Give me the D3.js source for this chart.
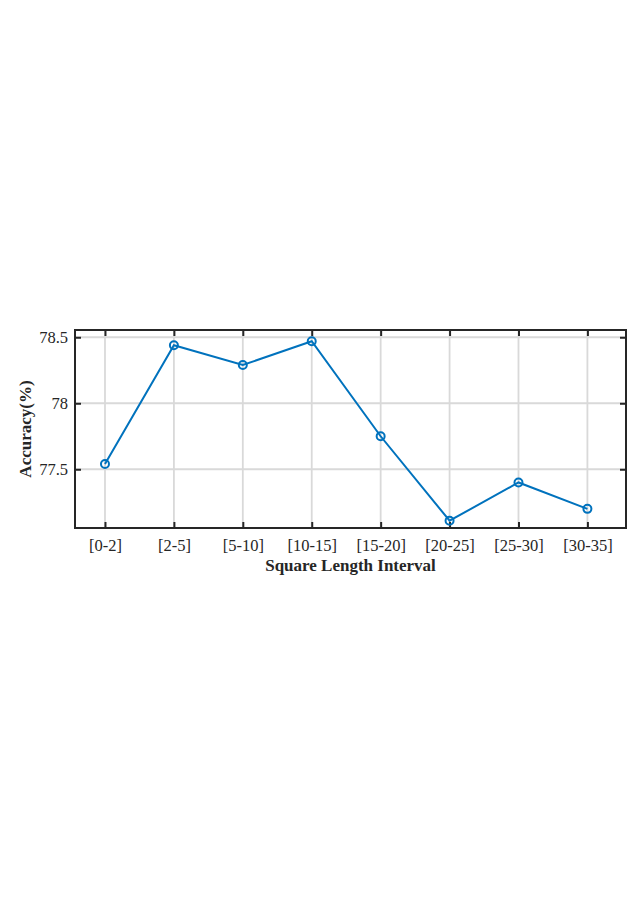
<!DOCTYPE html>
<html>
<head>
<meta charset="utf-8">
<script src="https://cdn.jsdelivr.net/npm/d3@7"></script>
<style>
  body { margin: 0; background: #fff; }
  text { font-family: 'Liberation Serif', 'DejaVu Serif', serif; fill: #262626; }
</style>
</head>
<body>
<div id="box-div"></div>
<script>
// data
const categories = ['[0-2]', '[2-5]', '[5-10]', '[10-15]', '[15-20]', '[20-25]', '[25-30]', '[30-35]']
const accuracy = [77.54, 78.44, 78.29, 78.47, 77.75, 77.11, 77.40, 77.20]
const yTicks = [77.5, 78, 78.5]

const dms = {
  width: 641,
  height: 906,
  margin: { top: 330, left: 75 },
  plotWidth: 551,
  plotHeight: 198,
}

const svg = d3.select('#box-div')
  .append('svg')
  .attr('width', dms.width)
  .attr('height', dms.height)

const content = svg.append('g')
  .attr('transform', `translate(${dms.margin.left},${dms.margin.top})`)

// category index -> x (points 1..8 with padding on both sides)
const xScale = d3.scaleLinear()
  .domain([0.565, 8.56])
  .range([0, dms.plotWidth])

const yScale = d3.scaleLinear()
  .domain([77.055, 78.555])
  .range([dms.plotHeight, 0])

const idx = categories.map((c, i) => i + 1)

// grid
const grid = content.append('g').attr('class', 'grid')
grid.selectAll('line.gx')
  .data(idx)
  .join('line')
  .attr('class', 'gx')
  .attr('x1', d => xScale(d)).attr('x2', d => xScale(d))
  .attr('y1', 0).attr('y2', dms.plotHeight)
  .attr('stroke', '#d9d9d9').attr('stroke-width', 1.8)
grid.selectAll('line.gy')
  .data(yTicks)
  .join('line')
  .attr('class', 'gy')
  .attr('x1', 0).attr('x2', dms.plotWidth)
  .attr('y1', d => yScale(d)).attr('y2', d => yScale(d))
  .attr('stroke', '#d9d9d9').attr('stroke-width', 1.8)

// axes (inward ticks on all sides)
const tickLen = 6
const bottomAxis = d3.axisBottom(xScale).tickValues(idx).tickFormat(d => categories[d - 1]).tickSizeInner(-tickLen).tickSizeOuter(0).tickPadding(11)
const topAxis = d3.axisTop(xScale).tickValues(idx).tickFormat('').tickSizeInner(-tickLen).tickSizeOuter(0)
const leftAxis = d3.axisLeft(yScale).tickValues(yTicks).tickFormat(d3.format('')).tickSizeInner(-tickLen).tickSizeOuter(0).tickPadding(7)
const rightAxis = d3.axisRight(yScale).tickValues(yTicks).tickFormat('').tickSizeInner(-tickLen).tickSizeOuter(0)

function styleAxis(g) {
  g.select('.domain').remove()
  g.selectAll('.tick line').attr('stroke', '#262626').attr('stroke-width', 2)
  g.selectAll('.tick text').attr('font-size', 16.5).attr('fill', '#262626')
}

content.append('g').attr('transform', `translate(0,${dms.plotHeight})`).call(bottomAxis).call(styleAxis)
content.append('g').call(topAxis).call(styleAxis)
content.append('g').call(leftAxis).call(styleAxis)
content.append('g').attr('transform', `translate(${dms.plotWidth},0)`).call(rightAxis).call(styleAxis)

// box
content.append('rect')
  .attr('x', 0).attr('y', 0)
  .attr('width', dms.plotWidth).attr('height', dms.plotHeight)
  .attr('fill', 'none').attr('stroke', '#262626').attr('stroke-width', 2)

// line + markers
const lineGenerator = d3.line()
  .x((d, i) => xScale(i + 1))
  .y(d => yScale(d))

content.append('path')
  .attr('d', lineGenerator(accuracy))
  .attr('fill', 'none')
  .attr('stroke', '#0072BD')
  .attr('stroke-width', 2)

content.selectAll('circle')
  .data(accuracy)
  .join('circle')
  .attr('cx', (d, i) => xScale(i + 1))
  .attr('cy', d => yScale(d))
  .attr('r', 4)
  .attr('fill', 'none')
  .attr('stroke', '#0072BD')
  .attr('stroke-width', 2)

// labels
svg.append('text')
  .attr('x', dms.margin.left + dms.plotWidth / 2)
  .attr('y', 571)
  .attr('text-anchor', 'middle')
  .attr('font-size', 17)
  .attr('font-weight', 'bold')
  .text('Square Length Interval')

svg.append('text')
  .attr('transform', `translate(31,${dms.margin.top + dms.plotHeight / 2}) rotate(-90)`)
  .attr('text-anchor', 'middle')
  .attr('font-size', 17)
  .attr('font-weight', 'bold')
  .text('Accuracy(%)')
</script>
</body>
</html>
